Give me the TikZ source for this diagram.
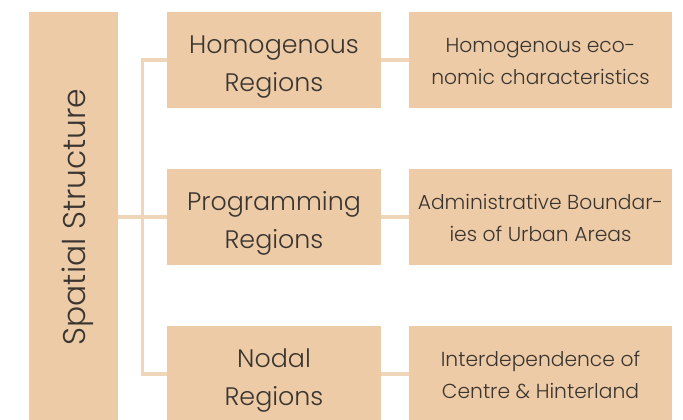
\documentclass[tikz,border=0pt]{standalone}
\usepackage{fontspec}
\setmainfont{Poppins}[UprightFont=* Light]
\usepackage{xcolor}
\usetikzlibrary{calc}
\definecolor{sand}{HTML}{EDCBA6}
\definecolor{sandline}{HTML}{F0D6B8}
\definecolor{ink}{HTML}{3A3531}
\tikzset{box/.style={fill=sand, text=ink, align=center, inner sep=0pt, minimum height=72pt, minimum width=160.5pt}}
\tikzset{midtext/.style={font=\fontsize{19}{28}\selectfont, text height=52pt, text depth=5pt}}
\tikzset{sidetext/.style={minimum width=197.25pt, font=\fontsize{15.2}{24}\selectfont, text height=41pt, text depth=4pt}}
\tikzset{link/.style={draw=sandline, line width=2.3pt}}

\begin{document}
\begin{tikzpicture}[x=0.75pt, y=-0.75pt]
    \newcommand\posS{73.5}
    \newcommand\posM{274}
    \newcommand\posR{540.5}
    \newcommand\rowA{60}
    \newcommand\rowB{217}
    \newcommand\rowC{374}

    \useasboundingbox (0, 0) rectangle (683, 420);

    \node[box, minimum width=66.75pt, minimum height=307.5pt] (spatial) at (\posS, \rowB){\rotatebox{90}{\raisebox{-3.5pt}[\height][\depth]{\fontsize{23.5}{26}\selectfont Spatial Structure}}};

    \node[box, midtext] (homreg) at (\posM, \rowA){Homogenous\\Regions};
    \node[box, midtext] (progreg) at (\posM, \rowB){Programming\\Regions};
    \node[box, midtext] (nodreg) at (\posM, \rowC){Nodal\\Regions};

    \node[box, sidetext] (homchar) at (\posR, \rowA){Homogenous eco-\\nomic characteristics};
    \node[box, sidetext] (progchar) at (\posR, \rowB){Administrative Boundar-\\ies of Urban Areas};
    \node[box, sidetext] (nodchar) at (\posR, \rowC){Interdependence of\\Centre \& Hinterland};

    \coordinate (trunk) at ($(spatial.east)+(24, 0)$);
    \draw[link] (spatial.east) -- (trunk);
    \draw[link] (homreg.west) -| (trunk) |- (nodreg.west);
    \draw[link] (trunk) -- (progreg.west);

    \draw[link] (homreg) -- (homchar);
    \draw[link] (progreg) -- (progchar);
    \draw[link] (nodreg) -- (nodchar);
\end{tikzpicture}
\end{document}
